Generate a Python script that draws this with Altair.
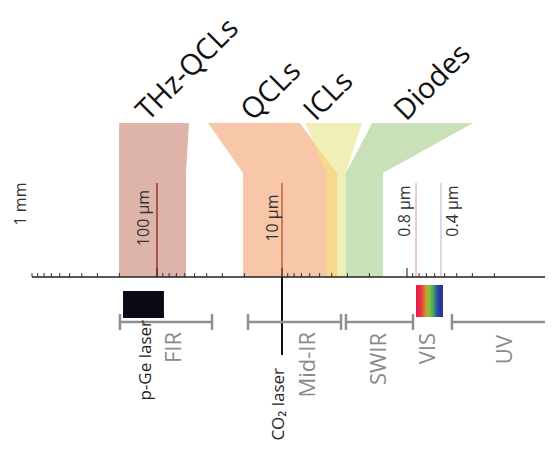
import altair as alt
import pandas as pd

FONT = "Open Sans"

# ---------------- data (wavelengths in µm; v = height above the wavelength axis) --------------
axis_start, axis_end = 1000, 0.0787
minor_ticks = [1000, 900, 800, 700, 600, 500, 400, 300, 200,
               90, 80, 70, 60, 50, 40, 30, 20,
               9, 8, 7, 6, 5, 4, 3, 2,
               0.9, 0.8, 0.7, 0.6, 0.5, 0.4, 0.3, 0.2]
major_ticks = [100, 10, 1]

marker_lam = [100, 10, 0.847, 0.535]
marker_colors = ["#9b3333", "#b9652c", "#ebb9c8", "#d2cbe6"]
marker_top = 94

label_text = ["1 mm", "100 µm", "10 µm", "0.8 µm", "0.4 µm"]
label_lam = [1230, 127, 11.8, 1.04, 0.43]
label_v = [73, 59, 59, 66, 66]

funnel_names = ["THz-QCLs", "QCLs", "ICLs", "QCL/ICL overlap", "Diodes"]
funnel_levels = [[154, 104, 0], [154, 104, 0], [154, 104, 0], [137, 104, 0], [154, 104, 0]]
funnel_long = [[201, 201, 201], [39, 20.5, 20.5], [6.5, 4.37, 4.37], [5.75, 4.37, 4.37], [1.9, 3.08, 3.08]]
funnel_short = [[55.5, 58.6, 58.6], [7.2, 3.63, 3.63], [2.29, 3.08, 3.08], [5.75, 3.63, 3.63], [0.296, 1.56, 1.56]]
funnel_colors = ["#ddb3aa", "#f8c6a8", "#efefb6", "#f5d98c", "#c9e1b9"]

title_text = ["THz-QCLs", "QCLs", "ICLs", "Diodes"]
title_lam = [118, 17.1, 5.4, 1.02]
title_v = 155

pge_lam = [187, 88]
pge_v = [-14, -41]
vis_lam = [0.847, 0.515]
vis_v = [-8, -40]
co2_lam = 10
co2_v = [0, -78]

bar_long = [198, 18.7, 3.08, 0.437]
bar_short = [36.3, 3.37, 0.895, 0.0787]
bar_v = -45
cap_lam = [198, 36.3, 18.7, 3.37, 3.08, 0.895, 0.437]
cap_v = [-37, -53]

range_text = ["FIR", "Mid-IR", "SWIR", "VIS", "UV"]
range_lam = [73, 6.2, 1.67, 0.68, 0.164]
range_v = [-55, -55, -56, -56, -58]

laser_text = ["p-Ge laser", "CO₂ laser"]
laser_lam = [122, 10.6]
laser_v = [-43, -91]

# ---------------- scales ----------------
xs = alt.Scale(type="log", domain=[0.0787, 1556], reverse=True, nice=False)
ys = alt.Scale(domain=[-165, 269], nice=False, zero=False)


def X(f, **kw):
    return alt.X(f, type="quantitative", scale=xs, axis=None, **kw)


def Y(f, **kw):
    return alt.Y(f, type="quantitative", scale=ys, axis=None, **kw)


layers = []

# funnels (drawn as horizontal areas: span in wavelength at each height)
for name, lv, lo, hi, col in zip(funnel_names, funnel_levels, funnel_long, funnel_short, funnel_colors):
    df = pd.DataFrame({"v": lv, "lo": lo, "hi": hi})
    layers.append(
        alt.Chart(df).mark_area(orient="horizontal", color=col, opacity=1, interpolate="linear")
        .encode(y=Y("v"), x=X("lo", stack=None), x2="hi")
    )

# marker lines
for lam, col in zip(marker_lam, marker_colors):
    df = pd.DataFrame({"lam": [lam], "a": [0], "b": [marker_top]})
    layers.append(
        alt.Chart(df).mark_rule(color=col, strokeWidth=1.5)
        .encode(x=X("lam"), y=Y("a"), y2="b")
    )

# ticks
tick_df = pd.DataFrame({"lam": minor_ticks, "a": [0] * len(minor_ticks), "b": [4] * len(minor_ticks)})
layers.append(alt.Chart(tick_df).mark_rule(color="#333333", strokeWidth=1)
              .encode(x=X("lam"), y=Y("a"), y2="b"))
maj_df = pd.DataFrame({"lam": major_ticks, "a": [0] * 3, "b": [9] * 3})
layers.append(alt.Chart(maj_df).mark_rule(color="#333333", strokeWidth=1.2)
              .encode(x=X("lam"), y=Y("a"), y2="b"))

# axis line
ax_df = pd.DataFrame({"a": [axis_start], "b": [axis_end], "v": [0]})
layers.append(alt.Chart(ax_df).mark_rule(color="#222222", strokeWidth=1.5)
              .encode(x=X("a"), x2="b", y=Y("v")))

# marker labels
lab_df = pd.DataFrame({"t": label_text, "lam": label_lam, "v": label_v})
layers.append(alt.Chart(lab_df).mark_text(angle=270, align="center", baseline="middle",
                                          font=FONT, fontSize=16, color="#333333")
              .encode(x=X("lam"), y=Y("v"), text="t:N"))

# titles
tt_df = pd.DataFrame({"t": title_text, "lam": title_lam, "v": [title_v] * len(title_text)})
layers.append(alt.Chart(tt_df).mark_text(angle=315, align="left", baseline="alphabetic",
                                         font=FONT, fontSize=29, color="#111111")
              .encode(x=X("lam"), y=Y("v"), text="t:N"))

# p-Ge laser box
pg_df = pd.DataFrame({"a": [pge_lam[0]], "b": [pge_lam[1]], "c": [pge_v[0]], "d": [pge_v[1]]})
layers.append(alt.Chart(pg_df).mark_rect(color="#0a0a14")
              .encode(x=X("a"), x2="b", y=Y("c"), y2="d"))

# visible spectrum box
vis_df = pd.DataFrame({"a": [vis_lam[0]], "b": [vis_lam[1]], "c": [vis_v[0]], "d": [vis_v[1]]})
rainbow = alt.Gradient(
    gradient="linear", x1=0, x2=1, y1=0, y2=0,
    stops=[alt.GradientStop(color="#e8174f", offset=0),
           alt.GradientStop(color="#e53c3c", offset=0.2),
           alt.GradientStop(color="#c8a030", offset=0.38),
           alt.GradientStop(color="#7dc242", offset=0.5),
           alt.GradientStop(color="#4caf50", offset=0.62),
           alt.GradientStop(color="#2c5aa8", offset=0.76),
           alt.GradientStop(color="#2b3a9a", offset=0.88),
           alt.GradientStop(color="#33308f", offset=1)])
layers.append(alt.Chart(vis_df).mark_rect(color=rainbow)
              .encode(x=X("a"), x2="b", y=Y("c"), y2="d"))

# CO2 laser line
co_df = pd.DataFrame({"lam": [co2_lam], "a": [co2_v[0]], "b": [co2_v[1]]})
layers.append(alt.Chart(co_df).mark_rule(color="#111111", strokeWidth=2)
              .encode(x=X("lam"), y=Y("a"), y2="b"))

# range bars
bar_df = pd.DataFrame({"a": bar_long, "b": bar_short, "v": [bar_v] * len(bar_long)})
layers.append(alt.Chart(bar_df).mark_rule(color="#8f8f8f", strokeWidth=2.5)
              .encode(x=X("a"), x2="b", y=Y("v")))
cap_df = pd.DataFrame({"lam": cap_lam, "a": [cap_v[0]] * len(cap_lam), "b": [cap_v[1]] * len(cap_lam)})
layers.append(alt.Chart(cap_df).mark_rule(color="#8f8f8f", strokeWidth=2.5)
              .encode(x=X("lam"), y=Y("a"), y2="b"))

# range labels
rg_df = pd.DataFrame({"t": range_text, "lam": range_lam, "v": range_v})
layers.append(alt.Chart(rg_df).mark_text(angle=270, align="right", baseline="middle",
                                         font=FONT, fontSize=22, color="#8a8a8a")
              .encode(x=X("lam"), y=Y("v"), text="t:N"))

# laser labels
ls_df = pd.DataFrame({"t": laser_text, "lam": laser_lam, "v": laser_v})
layers.append(alt.Chart(ls_df).mark_text(angle=270, align="right", baseline="middle",
                                         font=FONT, fontSize=17, color="#222222")
              .encode(x=X("lam"), y=Y("v"), text="t:N"))

chart = (
    alt.layer(*layers)
    .properties(width=537, height=434, padding=0, autosize="none", background="white")
    .configure_view(stroke=None)
)

chart.save("out.html", embed_options={"renderer": "svg", "actions": False})
